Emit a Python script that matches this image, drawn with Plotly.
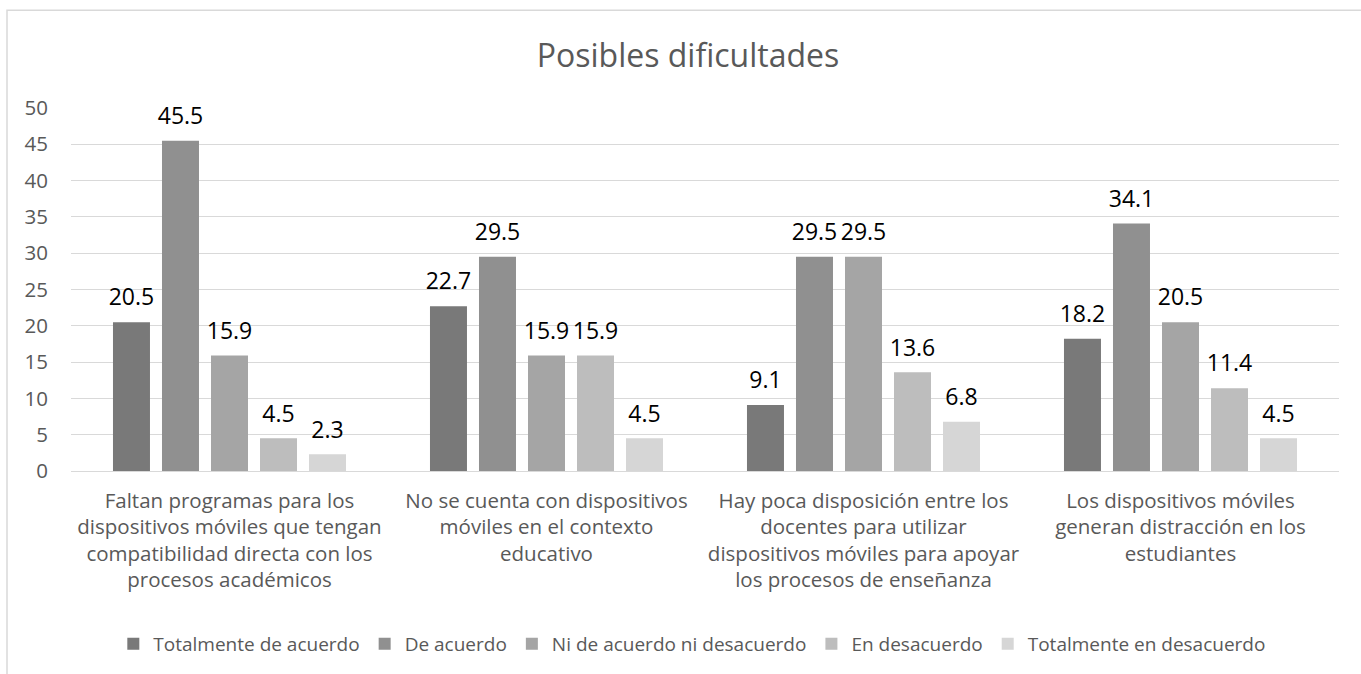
import plotly.graph_objects as go

categories = [
    "Faltan programas para los<br>dispositivos móviles que tengan<br>compatibilidad directa con los<br>procesos académicos",
    "No se cuenta con dispositivos<br>móviles en el contexto<br>educativo",
    "Hay poca disposición entre los<br>docentes para utilizar<br>dispositivos móviles para apoyar<br>los procesos de enseñanza",
    "Los dispositivos móviles<br>generan distracción en los<br>estudiantes",
]
series_names = ["Totalmente de acuerdo", "De acuerdo", "Ni de acuerdo ni desacuerdo",
                "En desacuerdo", "Totalmente en desacuerdo"]
totalmente_acuerdo = [20.5, 22.7, 9.1, 18.2]
de_acuerdo = [45.5, 29.5, 29.5, 34.1]
ni_ni = [15.9, 15.9, 29.5, 20.5]
en_desacuerdo = [4.5, 15.9, 13.6, 11.4]
totalmente_desacuerdo = [2.3, 4.5, 6.8, 4.5]
series_values = [totalmente_acuerdo, de_acuerdo, ni_ni, en_desacuerdo, totalmente_desacuerdo]
colors = ["#797979", "#909090", "#a5a5a5", "#bdbdbd", "#d6d6d6"]
y_ticks = [0, 5, 10, 15, 20, 25, 30, 35, 40, 45, 50]

font_family = "Open Sans, Noto Sans, sans-serif"
BARGAP = 0.227

fig = go.Figure()
for i, (name, vals, col) in enumerate(zip(series_names, series_values, colors)):
    fig.add_trace(go.Bar(
        x=categories, y=vals, name=name, marker=dict(color=col, line=dict(width=0)),
        offsetgroup=str(i), hoverinfo="skip",
    ))
for i, vals in enumerate(series_values):
    fig.add_trace(go.Scatter(
        x=categories, y=vals, mode="markers+text", offsetgroup=str(i),
        text=[f"{v:.1f}" for v in vals], textposition="top center",
        textfont=dict(size=23, color="#000000", family=font_family),
        marker=dict(size=16, opacity=0), showlegend=False, hoverinfo="skip",
        cliponaxis=False,
    ))

W, H = 1361, 674
l, r, t, b = 71, 22, 108, 202
pw, ph = W - l - r, H - t - b

def px_x(x):
    return (x - l) / pw

def px_y(y):
    return (H - b - y) / ph

fig.update_layout(
    width=W, height=H,
    margin=dict(l=l, r=r, t=t, b=b),
    paper_bgcolor="white", plot_bgcolor="white",
    barmode="group", bargap=BARGAP, bargroupgap=0.245,
    scattermode="group", scattergap=BARGAP,
    font=dict(family=font_family, color="#595959", size=20),
    title=dict(text="Posibles dificultades", x=688 / W, xanchor="center",
               y=1 - 56 / H, yanchor="middle", xref="container", yref="container",
               font=dict(size=32, color="#595959", family=font_family)),
    xaxis=dict(showgrid=False, showline=False, ticks="", ticklabelstandoff=15,
               tickfont=dict(size=20.5, color="#595959")),
    yaxis=dict(range=[0, 50], tickvals=y_ticks, showgrid=True, gridcolor="#d9d9d9", gridwidth=1,
               zeroline=True, zerolinecolor="#d9d9d9", zerolinewidth=1,
               tickfont=dict(size=20.5, color="#595959"), ticklabelstandoff=22),
    legend=dict(orientation="h", x=0.49, xanchor="center", y=px_y(644), yanchor="middle",
                font=dict(size=19, color="#595959"), traceorder="normal", itemwidth=30),
    shapes=[dict(type="rect", xref="paper", yref="paper",
                 x0=px_x(7), x1=px_x(1400), y0=px_y(720), y1=px_y(10),
                 line=dict(color="#d9d9d9", width=1.5), fillcolor="rgba(0,0,0,0)", layer="below")],
)

fig.write_html("out.html", config={"displayModeBar": False},
               post_script="document.body.style.margin='0px';")
